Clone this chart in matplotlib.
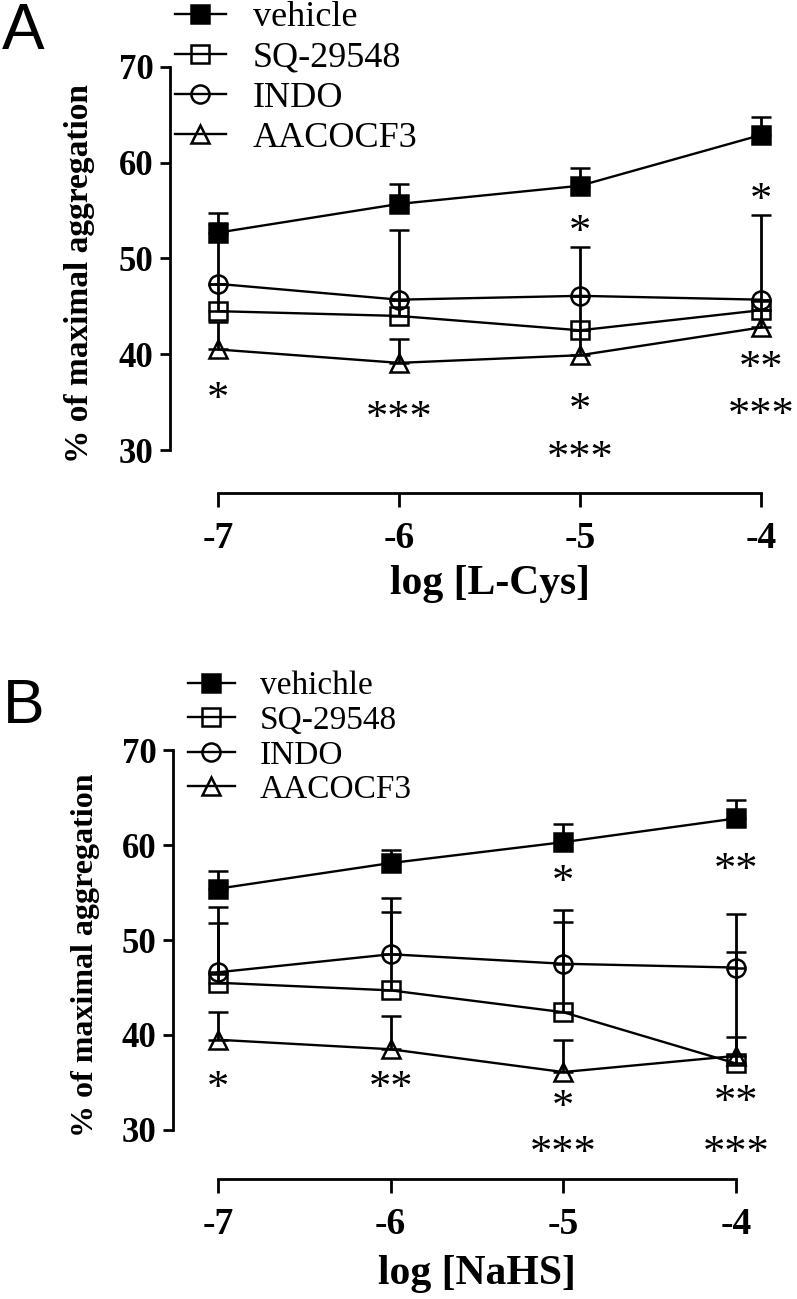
import matplotlib
matplotlib.use("Agg")
import matplotlib.pyplot as plt

plt.rcParams['font.family'] = ['Liberation Serif', 'DejaVu Serif']
plt.rcParams['axes.unicode_minus'] = False

doses = [-7, -6, -5, -4]
dose_labels = ["-7", "-6", "-5", "-4"]
y_ticks = [30, 40, 50, 60, 70]
names_a = ["vehicle", "SQ-29548", "INDO", "AACOCF3"]
names_b = ["vehichle", "SQ-29548", "INDO", "AACOCF3"]

# panel A: log [L-Cys]
cys_vehicle = [52.7, 55.7, 57.6, 62.9]
cys_vehicle_err = [2.1, 2.1, 1.9, 1.9]
cys_sq = [44.5, 44.0, 42.5, 44.6]
cys_sq_err = [2.8, 1.7, 3.6, 1.1]
cys_indo = [47.35, 45.7, 46.1, 45.7]
cys_indo_err = [6.4, 7.3, 5.1, 8.85]
cys_aaco = [40.5, 39.1, 39.9, 42.8]
cys_aaco_err = [2.9, 2.5, 2.6, 1.8]
cys_star_x = [-7, -6, -5, -5, -5, -4, -4, -4]
cys_star_y = [36.4, 34.4, 53.8, 35.2, 30.2, 57.2, 39.6, 34.7]
cys_star_txt = ["*", "***", "*", "*", "***", "*", "**", "***"]

# panel B: log [NaHS]
nahs_vehicle = [55.4, 58.1, 60.3, 62.8]
nahs_vehicle_err = [1.9, 1.4, 1.9, 1.9]
nahs_sq = [45.5, 44.7, 42.4, 37.0]
nahs_sq_err = [6.3, 8.2, 9.5, 11.7]
nahs_indo = [46.6, 48.5, 47.5, 47.1]
nahs_indo_err = [6.9, 5.9, 5.7, 5.6]
nahs_aaco = [39.5, 38.5, 36.1, 37.8]
nahs_aaco_err = [2.9, 3.5, 3.4, 2.0]
nahs_star_x = [-7, -6, -5, -5, -5, -4, -4, -4]
nahs_star_y = [35.5, 35.5, 57.2, 33.5, 28.7, 58.4, 34.0, 28.7]
nahs_star_txt = ["*", "**", "*", "*", "***", "**", "**", "***"]

W, H = 797, 1299
fig = plt.figure(figsize=(W / 100, H / 100), dpi=100)

markers = [('s', 'black'), ('s', 'none'), ('o', 'none'), ('^', 'none')]


def panel(rect, xlim, ylim, series, errs, names, sx, sy, st, xlabel,
          leg_xy, leg_fs, leg_sp, ylab_xy, xlab_xy, ylab_fs):
    l, r, t, b = rect
    ax = fig.add_axes([l / W, 1 - b / H, (r - l) / W, (b - t) / H])
    handles = []
    for vals, err, (m, fc), name in zip(series, errs, markers, names):
        c = ax.errorbar(doses, vals, yerr=[[0] * len(err), err], color='black',
                        marker=m, mfc=fc, mec='black', ms=13, mew=1.8, lw=1.7,
                        elinewidth=2.0, capsize=7.5, capthick=2.3,
                        clip_on=False)
        handles.append(c[0])
    for x, y, s in zip(sx, sy, st):
        ax.annotate(s, (x, y), xytext=(0, -16), textcoords='offset points',
                    ha='center', va='baseline', fontsize=32)
    ax.set_xlim(*xlim)
    ax.set_ylim(*ylim)
    for side in ['top', 'right']:
        ax.spines[side].set_visible(False)
    for side in ['left', 'bottom']:
        ax.spines[side].set_linewidth(2.0)
    ax.spines['left'].set_bounds(30, 70)
    ax.spines['bottom'].set_bounds(-7, -4)
    ax.set_yticks(y_ticks)
    ax.set_yticklabels([str(v) for v in y_ticks], fontweight='bold')
    ax.set_xticks(doses)
    ax.set_xticklabels(dose_labels, fontweight='bold')
    ax.tick_params(axis='y', length=7, width=2, pad=5, labelsize=25)
    ax.tick_params(axis='x', length=10, width=2, pad=10, labelsize=27)
    ax.set_ylabel("% of maximal aggregation", fontsize=ylab_fs, fontweight='bold')
    ax.yaxis.set_label_coords(*ylab_xy)
    ax.set_xlabel(xlabel, fontsize=30, fontweight='bold')
    ax.xaxis.set_label_coords(*xlab_xy)
    ax.legend(handles, names, loc='upper left',
              bbox_to_anchor=(leg_xy[0] / W, 1 - leg_xy[1] / H),
              bbox_transform=fig.transFigure, frameon=False, borderpad=0,
              borderaxespad=0, handlelength=1.4, handletextpad=0.75,
              labelspacing=leg_sp, fontsize=leg_fs, numpoints=1)
    return ax


panel((170, 790, 60, 493), (-7.265, -3.84), (25.51, 70.73),
      [cys_vehicle, cys_sq, cys_indo, cys_aaco],
      [cys_vehicle_err, cys_sq_err, cys_indo_err, cys_aaco_err],
      names_a, cys_star_x, cys_star_y, cys_star_txt, "log [L-Cys]",
      (175, 1), 26, 0.19, (-0.121, 0.506), (0.516, -0.166), 24)

panel((173, 790, 743, 1179), (-7.26, -3.687), (24.84, 70.74),
      [nahs_vehicle, nahs_sq, nahs_indo, nahs_aaco],
      [nahs_vehicle_err, nahs_sq_err, nahs_indo_err, nahs_aaco_err],
      names_b, nahs_star_x, nahs_star_y, nahs_star_txt, "log [NaHS]",
      (188, 671), 24, 0.12, (-0.118, 0.514), (0.493, -0.174), 23)

fig.text(2 / W, 1 - 2 / H, "A", family='Liberation Sans', fontsize=46, va='top')
fig.text(3 / W, 1 - 677 / H, "B", family='Liberation Sans', fontsize=45, va='top')

fig.savefig("out.png", dpi=100)
